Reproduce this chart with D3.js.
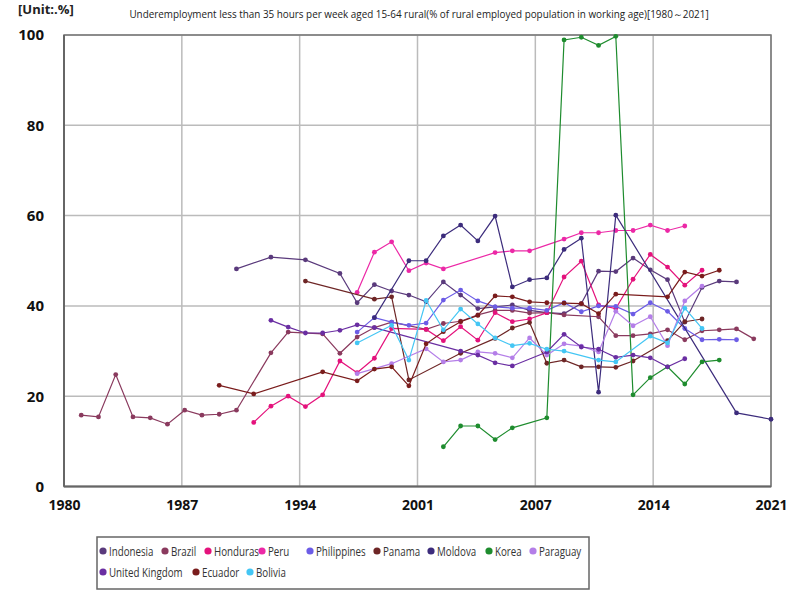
<!DOCTYPE html>
<html><head><meta charset="utf-8">
<script src="https://cdn.jsdelivr.net/npm/d3@7"></script>
<style>body{margin:0;background:#fff;}svg{display:block;font-family:"Open Sans",sans-serif;}</style>
</head><body>
<script>
const seriesNames = ["Indonesia","Brazil","Honduras","Peru","Philippines","Panama","Moldova","Korea","Paraguay","United Kingdom","Ecuador","Bolivia"];
const seriesColors = ["#5a3a7c","#8a3a5e","#e4127c","#ec28a6","#6c5ce6","#6e2626","#3c2c7c","#1e8c2e","#b47ee8","#6a2ea2","#7a1c1c","#44c6f4"];
const indonesia = [[1990,48.2],[1992,50.8],[1994,50.2],[1996,47.2],[1997,40.7],[1998,44.7],[1999,43.3],[2000,42.4],[2001,40.9],[2002,45.3],[2003,42.4],[2004,39.4],[2005,39.8],[2006,40.2],[2007,39.0],[2008,38.5],[2009,38.3],[2010,40.5],[2011,47.7],[2012,47.6],[2013,50.6],[2014,48.0],[2015,45.8],[2016,36.4],[2017,44.1],[2018,45.5],[2019,45.3]];
const brazil = [[1981,15.8],[1982,15.4],[1983,24.8],[1984,15.4],[1985,15.2],[1986,13.8],[1987,16.9],[1988,15.8],[1989,16.0],[1990,16.9],[1992,29.6],[1993,34.2],[1995,33.8],[1996,29.5],[1997,33.1],[1998,35.2],[1999,36.4],[2001,34.8],[2002,36.1],[2003,36.6],[2004,38.0],[2005,39.0],[2006,39.0],[2007,38.4],[2008,38.5],[2009,38.0],[2011,37.6],[2012,33.4],[2013,33.4],[2014,33.8],[2015,34.7],[2016,32.5],[2017,34.5],[2018,34.7],[2019,34.9],[2020,32.7]];
const honduras = [[1991,14.2],[1992,17.8],[1993,20.0],[1994,17.7],[1995,20.3],[1996,27.8],[1997,25.2],[1998,28.4],[1999,35.0],[2001,34.8],[2002,32.3],[2003,35.4],[2004,32.4],[2005,38.5],[2006,36.5],[2007,37.1],[2008,38.5],[2009,46.4],[2010,49.9],[2011,40.2],[2012,39.4],[2013,45.9],[2014,51.4],[2015,48.6],[2016,44.6],[2017,47.9]];
const peru = [[1997,43.0],[1998,51.9],[1999,54.2],[2000,47.8],[2001,49.5],[2002,48.2],[2005,51.8],[2006,52.2],[2007,52.2],[2009,54.8],[2010,56.2],[2011,56.2],[2012,56.7],[2013,56.7],[2014,57.9],[2015,56.7],[2016,57.7]];
const philippines = [[1997,34.2],[1998,37.4],[1999,36.4],[2000,35.7],[2001,36.2],[2002,41.3],[2003,43.5],[2004,41.1],[2005,39.8],[2006,39.5],[2007,39.5],[2008,39.0],[2009,40.7],[2010,38.7],[2011,40.0],[2012,39.9],[2013,38.2],[2014,40.7],[2015,38.8],[2016,35.0],[2017,32.5],[2018,32.6],[2019,32.5]];
const panama = [[1994,45.5],[1998,41.5],[1999,42.0],[2000,23.6],[2003,29.5],[2005,32.8],[2006,35.1],[2007,36.3],[2008,27.3],[2009,28.0],[2010,26.5],[2011,26.5],[2012,26.4],[2013,27.8],[2015,32.3],[2016,36.5],[2017,37.1]];
const moldova = [[1998,37.4],[2000,50.0],[2001,50.0],[2002,55.5],[2003,57.9],[2004,54.4],[2005,59.9],[2006,44.2],[2007,45.8],[2008,46.2],[2009,52.5],[2010,55.0],[2011,20.9],[2012,60.1],[2019,16.3],[2021,14.9]];
const korea = [[2002,8.8],[2003,13.4],[2004,13.4],[2005,10.4],[2006,13.0],[2008,15.2],[2009,98.9],[2010,99.5],[2011,97.7],[2012,99.7],[2013,20.3],[2014,24.1],[2015,26.5],[2016,22.7],[2017,27.6],[2018,28.0]];
const paraguay = [[1997,25.0],[1999,27.2],[2001,30.5],[2002,27.6],[2003,28.0],[2004,29.8],[2005,29.5],[2006,28.5],[2007,32.9],[2008,29.1],[2009,31.6],[2010,31.1],[2011,29.8],[2012,38.8],[2013,35.6],[2014,37.6],[2015,31.2],[2016,41.1],[2017,44.4]];
const unitedKingdom = [[1992,36.8],[1993,35.3],[1994,34.0],[1995,34.0],[1996,34.6],[1997,35.8],[1998,35.2],[2003,30.0],[2004,29.1],[2005,27.4],[2006,26.7],[2008,29.8],[2009,33.7],[2010,30.9],[2011,30.4],[2012,28.6],[2013,29.1],[2014,28.5],[2015,26.5],[2016,28.3]];
const ecuador = [[1989,22.4],[1991,20.5],[1995,25.4],[1997,23.4],[1998,26.0],[1999,26.5],[2000,22.3],[2001,31.6],[2002,34.3],[2003,36.5],[2004,37.9],[2005,42.2],[2006,42.0],[2007,40.9],[2008,40.7],[2009,40.6],[2010,40.5],[2011,38.3],[2012,42.6],[2015,42.0],[2016,47.5],[2017,46.6],[2018,47.9]];
const bolivia = [[1997,31.8],[1999,35.7],[2000,28.0],[2001,41.2],[2002,34.7],[2003,39.3],[2004,36.0],[2005,32.9],[2006,31.2],[2007,31.7],[2008,30.4],[2009,30.0],[2011,28.0],[2012,27.6],[2014,33.3],[2015,31.8],[2016,39.5],[2017,35.0]];
const seriesData = [indonesia,brazil,honduras,peru,philippines,panama,moldova,korea,paraguay,unitedKingdom,ecuador,bolivia];
const yTicks = [0,20,40,60,80,100];
const xTickLabels = ["1980","1987","1994","2001","2007","2014","2021"];
const titleText = "Underemployment less than 35 hours per week aged 15-64 rural(% of rural employed population in working age)[1980～2021]";
const unitText = "[Unit:.%]";

const W=800,H=600, L=64, R=771, T=35, B=486.5;
const svg = d3.select("body").append("svg").attr("width",W).attr("height",H);
const x = d3.scaleLinear().domain([1980,2021]).range([L,R]);
const y = d3.scaleLinear().domain([0,100]).range([B,T]);
const xTickVals = xTickLabels.map((d,i)=>1980+i*41/(xTickLabels.length-1));

// grid
const g = svg.append("g");
g.selectAll(".hg").data(yTicks).join("line").attr("x1",L).attr("x2",R).attr("y1",d=>y(d)).attr("y2",d=>y(d)).attr("stroke","#bbb").attr("stroke-width",1.5);
g.selectAll(".vg").data(xTickVals).join("line").attr("x1",d=>x(d)).attr("x2",d=>x(d)).attr("y1",T).attr("y2",B).attr("stroke","#bbb").attr("stroke-width",1.5);
svg.append("rect").attr("x",L).attr("y",T).attr("width",R-L).attr("height",B-T).attr("fill","none").attr("stroke","#777").attr("stroke-width",1.5);
svg.append("line").attr("x1",L).attr("x2",L).attr("y1",T).attr("y2",B).attr("stroke","#666").attr("stroke-width",2);
svg.append("line").attr("x1",L).attr("x2",R).attr("y1",B).attr("y2",B).attr("stroke","#666").attr("stroke-width",2);

// axes labels
const yAxis = d3.axisLeft(y).tickValues(yTicks).tickSize(0).tickPadding(20);
const ya = svg.append("g").attr("transform",`translate(${L},0)`).call(yAxis);
ya.select(".domain").remove();
ya.selectAll("text").attr("font-size",15).attr("font-weight","bold").attr("fill","#111").style("font-family","'Open Sans',sans-serif");
const xAxis = d3.axisBottom(x).tickValues(xTickVals).tickFormat((d,i)=>xTickLabels[i]).tickSize(0).tickPadding(14);
const xa = svg.append("g").attr("transform",`translate(0,${B})`).call(xAxis);
xa.select(".domain").remove();
xa.selectAll("text").attr("font-size",14).attr("font-weight","bold").attr("fill","#111").style("font-family","'Open Sans',sans-serif");

// title & unit
svg.append("text").attr("x",419).attr("y",18).attr("text-anchor","middle").attr("font-size",9.9).attr("fill","#222").text(titleText);
svg.append("text").attr("x",18).attr("y",14).attr("font-size",13).attr("font-weight","bold").attr("fill","#222").text(unitText);

// series
const line = d3.line().x(d=>x(d[0])).y(d=>y(d[1]));
seriesData.forEach((data,i)=>{
  const sg = svg.append("g");
  sg.append("path").datum(data).attr("d",line).attr("fill","none").attr("stroke",seriesColors[i]).attr("stroke-width",1.2);
  sg.selectAll("circle").data(data).join("circle").attr("cx",d=>x(d[0])).attr("cy",d=>y(d[1])).attr("r",2.4).attr("fill",seriesColors[i]);
});

// legend
svg.append("rect").attr("x",97).attr("y",537).attr("width",492).attr("height",52).attr("fill","#fff").attr("stroke","#666").attr("stroke-width",1.5);
const legendPos = [[103,551],[165,551],[208,551],[262,551],[310,551],[377,551],[431,551],[489,551],[533,551],[103,572],[196,572],[250,572]];
seriesNames.forEach((n,i)=>{
  const [lx,ly]=legendPos[i];
  svg.append("circle").attr("cx",lx).attr("cy",ly).attr("r",3.6).attr("fill",seriesColors[i]);
  svg.append("text").attr("transform",`translate(${lx+6},${ly+4.5}) scale(0.75,1)`).attr("font-size",13).attr("fill","#333").text(n);
});
</script>
</body></html>
